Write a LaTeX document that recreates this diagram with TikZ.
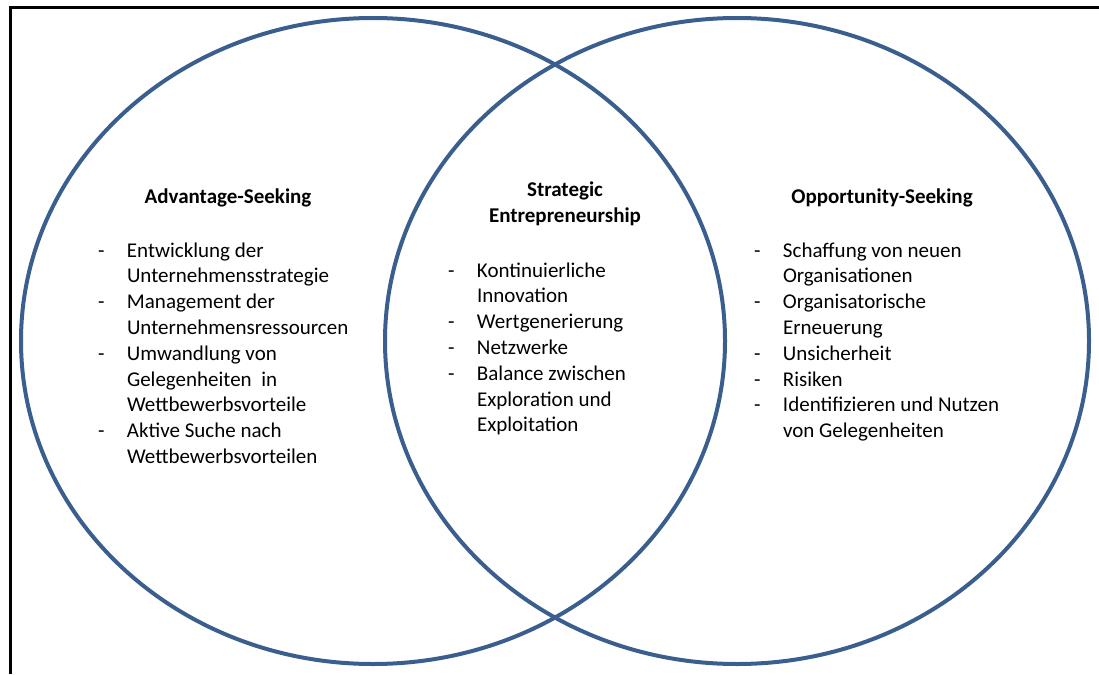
\documentclass[tikz,border=0pt]{standalone}
\usepackage{fontspec}
\setmainfont{Carlito}
\usepackage{xcolor}
\usepackage{tikz}
\definecolor{ringblue}{HTML}{3A5F8E}
\tikzstyle{every node}=[inner sep=0pt,outer sep=0pt,font=\fontsize{21}{25.8}\selectfont]
\tikzstyle{ring}=[draw=ringblue,line width=4pt]
\tikzstyle{frame}=[draw=black,line width=3pt]
\tikzstyle{heading}=[anchor=base,align=center,font=\fontsize{21}{25.8}\selectfont\bfseries]
\tikzstyle{items}=[anchor=base west]
\newcommand{\itemlist}[1]{\renewcommand{\arraystretch}{1}\begin{tabular}[t]{@{}p{29pt}@{}l@{}}#1\end{tabular}}

\begin{document}
\begin{tikzpicture}[x=1pt,y=-1pt]
            \useasboundingbox (0,0) rectangle (1099,674);
            \draw [frame] (1099,8) -- (10,8) -- (10,674);
            % the two circles
            \draw [ring] (373,341) ellipse [x radius=352, y radius=323];
            \draw [ring] (737,341) ellipse [x radius=352, y radius=323];
            % left
            \node [heading] (advhead) at (228,203) {Advantage-Seeking};
            \node [items] (advlist) at (98,257) {\itemlist{
                - & Entwicklung der \\
                  & Unternehmensstrategie \\
                - & Management der \\
                  & Unternehmensressourcen \\
                - & Umwandlung von \\
                  & Gelegenheiten\ \ in \\
                  & Wettbewerbsvorteile \\
                - & Aktive Suche nach \\
                  & Wettbewerbsvorteilen}};
            % middle
            \node [heading] (stratehead) at (565,222) {Strategic\\Entrepreneurship};
            \node [items] (stratelist) at (448,277) {\itemlist{
                - & Kontinuierliche \\
                  & Innovation \\
                - & Wertgenerierung \\
                - & Netzwerke \\
                - & Balance zwischen \\
                  & Exploration und \\
                  & Exploitation}};
            % right
            \node [heading] (opphead) at (882,203) {Opportunity-Seeking};
            \node [items] (opplist) at (754,257) {\itemlist{
                - & Schaffung von neuen \\
                  & Organisationen \\
                - & Organisatorische \\
                  & Erneuerung \\
                - & Unsicherheit \\
                - & Risiken \\
                - & Identifizieren und Nutzen \\
                  & von Gelegenheiten}};
\end{tikzpicture}
\end{document}
